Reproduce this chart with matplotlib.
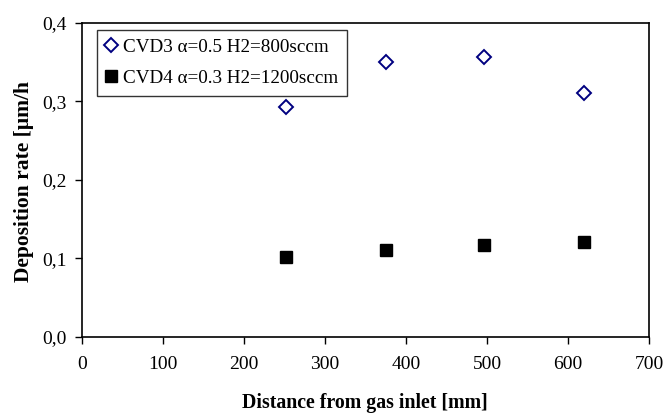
import matplotlib
matplotlib.use("Agg")
import matplotlib.pyplot as plt
from matplotlib.ticker import FuncFormatter

plt.rcParams['font.family'] = ['Liberation Serif', 'DejaVu Serif']

distance = [252, 375, 496, 620]
cvd3 = [0.293, 0.350, 0.356, 0.311]
cvd4 = [0.102, 0.111, 0.117, 0.121]
label3 = "CVD3 α=0.5 H2=800sccm"
label4 = "CVD4 α=0.3 H2=1200sccm"
xticks = [0, 100, 200, 300, 400, 500, 600, 700]
yticks = [0.0, 0.1, 0.2, 0.3, 0.4]

fig = plt.figure(figsize=(6.65, 4.13), dpi=100)
ax = fig.add_axes([82/665, 1-337/413, (649-82)/665, (337-22.7)/413])

ax.plot(distance, cvd3, linestyle='none', marker='D', markersize=7,
        markerfacecolor='white', markeredgecolor='#000080', markeredgewidth=1.4, label=label3)
ax.plot(distance, cvd4, linestyle='none', marker='s', markersize=9,
        markerfacecolor='black', markeredgecolor='black', label=label4)

ax.set_xlim(0, 700)
ax.set_ylim(0, 0.4)
ax.set_xticks(xticks)
ax.set_yticks(yticks)
ax.yaxis.set_major_formatter(FuncFormatter(lambda v, p: f"{v:.1f}".replace('.', ',')))
ax.tick_params(axis='both', direction='out', length=5, width=1, labelsize=14, colors='black')
ax.tick_params(axis='x', pad=9)
ax.tick_params(axis='y', pad=6)
for s in ax.spines.values():
    s.set_linewidth(1.2)
ax.tick_params(top=False, right=False)

fig.text(365/665, 1-403/413, "Distance from gas inlet [mm]", fontsize=14.3, fontweight='bold',
         ha='center', va='center')
fig.text(24/665, 1-181/413, "Deposition rate [µm/h", rotation=90, fontsize=15.5,
         fontweight='bold', ha='center', va='center')

leg = ax.legend(loc='upper left', bbox_to_anchor=((97-82)/567, 1-(30-22.7)/314.3),
                fontsize=13.8, frameon=True, fancybox=False, edgecolor='black',
                handlelength=0.6, handletextpad=0.3, borderpad=0.45, labelspacing=0.7,
                borderaxespad=0)
leg.get_frame().set_linewidth(1.0)

fig.savefig("out.png", dpi=100)
